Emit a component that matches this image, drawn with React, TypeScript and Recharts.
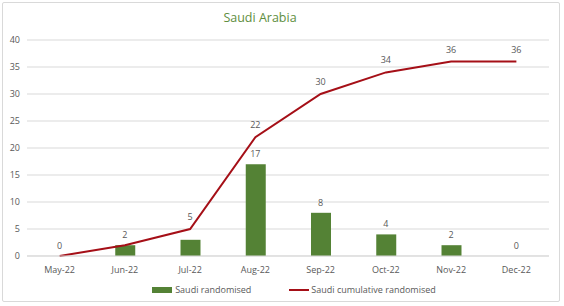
import React from 'react';
import { ComposedChart, Bar, Line, XAxis, YAxis, CartesianGrid, Legend, LabelList } from 'recharts';

const months = ['May-22', 'Jun-22', 'Jul-22', 'Aug-22', 'Sep-22', 'Oct-22', 'Nov-22', 'Dec-22'];
const randomised = [0, 2, 3, 17, 8, 4, 2, 0];
const cumulative = [0, 2, 5, 22, 30, 34, 36, 36];
const yTicks = [0, 5, 10, 15, 20, 25, 30, 35, 40];

const data = months.map((m, i) => ({ month: m, randomised: randomised[i], cumulative: cumulative[i] }));

const FONT = "'Open Sans', 'Noto Sans', sans-serif";
const GREEN = '#548235';
const RED = '#A50F17';
const TXT = '#595959';

const renderLegend = () => (
  <div style={{ display: 'flex', justifyContent: 'center', alignItems: 'center', fontFamily: FONT, fontSize: 9, color: TXT, paddingLeft: 24 }}>
    <span style={{ display: 'inline-block', width: 20, height: 6, background: GREEN, marginRight: 3 }} />
    <span style={{ marginRight: 38 }}>Saudi randomised</span>
    <span style={{ display: 'inline-block', width: 20, height: 2, background: RED, marginRight: 2 }} />
    <span>Saudi cumulative randomised</span>
  </div>
);

const makeLabel = (skip: number[], offset: number) => (props: any) => {
  const { x, y, value, index } = props;
  if (skip.includes(index)) return null;
  return (
    <text x={x} y={y - offset} textAnchor="middle" fontSize={9} fill={TXT} fontFamily={FONT}>
      {value}
    </text>
  );
};

export default function App() {
  return (
    <div style={{ position: 'absolute', left: 0, top: 0, width: 564, height: 306, background: '#fff' }}>
      <div style={{ position: 'absolute', left: 2, top: 2, width: 558, height: 300, border: '1px solid #d9d9d9', boxSizing: 'border-box', borderRadius: 2 }} />
      <div style={{ position: 'absolute', left: 160, top: 9, width: 200, textAlign: 'center', fontFamily: FONT, fontSize: 12.5, color: '#5E8E3E' }}>
        Saudi Arabia
      </div>
      <div style={{ position: 'absolute', left: 0, top: 0 }}>
        <ComposedChart width={564} height={306} data={data} margin={{ top: 40, right: 15, left: 2, bottom: 17 }}>
          <CartesianGrid vertical={false} stroke="#d9d9d9" />
          <XAxis
            dataKey="month"
            axisLine={{ stroke: '#d9d9d9' }}
            tickLine={false}
            tick={{ fontSize: 9, fill: TXT, fontFamily: FONT }}
            tickMargin={5}
            height={20}
          />
          <YAxis
            domain={[0, 40]}
            ticks={yTicks}
            axisLine={false}
            tickLine={false}
            tickSize={0}
            tickMargin={7}
            width={25}
            tick={{ fontSize: 9, fill: TXT, fontFamily: FONT }}
          />
          <Legend
            content={renderLegend}
            wrapperStyle={{ position: 'absolute', left: 0, top: 283, width: 564 }}
          />
          <Bar dataKey="randomised" name="Saudi randomised" fill={GREEN} barSize={20} isAnimationActive={false} />
          <Line
            dataKey="randomised"
            legendType="none"
            stroke="none"
            dot={false}
            activeDot={false}
            isAnimationActive={false}
          >
            <LabelList dataKey="randomised" content={makeLabel([2], 7)} />
          </Line>
          <Line
            dataKey="cumulative"
            name="Saudi cumulative randomised"
            stroke={RED}
            strokeWidth={2}
            dot={false}
            type="linear"
            isAnimationActive={false}
          >
            <LabelList dataKey="cumulative" content={makeLabel([0, 1], 9)} />
          </Line>
        </ComposedChart>
      </div>
    </div>
  );
}
